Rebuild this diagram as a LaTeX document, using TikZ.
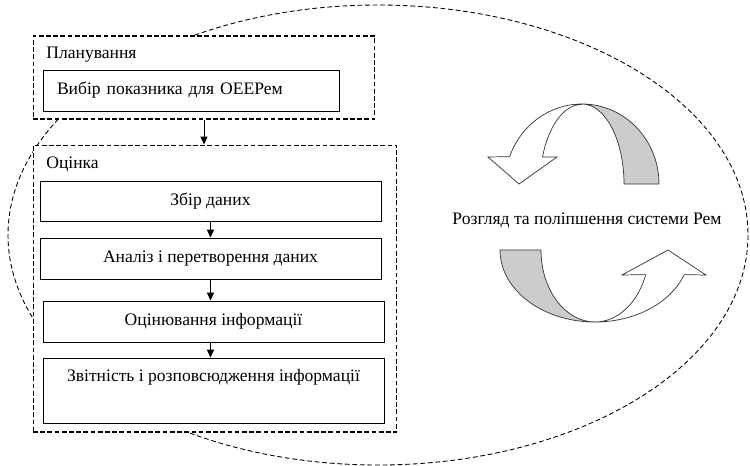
\documentclass[tikz,border=0pt]{standalone}
\usepackage{fontspec}
\setmainfont{Liberation Serif}
\usetikzlibrary{arrows.meta}

\begin{document}
\begin{tikzpicture}[x=0.02cm, y=-0.02cm, font=\fontsize{10}{12}\selectfont,
        stage/.style={draw, fill=white, line width=0.5pt, minimum width=6.82cm, minimum height=0.82cm, inner sep=0pt},
        group/.style={draw, fill=white, dash pattern=on 2.7pt off 1.4pt, line width=0.6pt, inner sep=0pt},
        flow/.style={-{Triangle[length=4.5pt,width=4pt]}, line width=0.5pt},
        ribbon/.style={draw=black!80, line width=0.4pt}]
            \useasboundingbox (0,0) rectangle (750,466);

            \draw[dash pattern=on 2.7pt off 1.6pt, line width=0.5pt] (378,235) ellipse[x radius=370, y radius=230];

            \node[group, minimum width=6.84cm, minimum height=1.66cm] (plan) at (204,77.5) {};
            \node[anchor=west, inner sep=0pt] (planlbl) at (46,55) {Планування};
            \node[stage, minimum width=5.92cm, text width=5.36cm, inner xsep=0.28cm, align=left] (choice) at (191,90.5) {Вибір показника для ОЕЕРем};

            \node[group, minimum width=7.28cm, minimum height=5.74cm] (eval) at (215,288.5) {};
            \node[anchor=west, inner sep=0pt] (evallbl) at (46,164) {Оцінка};
            \node[stage, minimum height=0.8cm] (collect) at (210.5,201) {Збір даних};
            \node[stage] (analyse) at (210.5,258.5) {Аналіз і перетворення даних};
            \node[stage] (assess) at (213.5,321.5) {Оцінювання інформації};
            \node[stage, minimum height=1.3cm, text height=0.25cm, text depth=0.63cm] (report) at (213.5,390.5) {Звітність і розповсюдження інформації};

            \draw[flow] (plan.south) -- (plan.south |- eval.north);
            \draw[flow] (collect) -- (analyse);
            \draw[flow] (analyse.south) -- (analyse.south |- assess.north);
            \draw[flow] (assess.south -| collect.south) -- (report.north -| collect.south);

            \filldraw[ribbon, fill=gray!40] (582,104) arc[start angle=270, end angle=360, x radius=77, y radius=80] -- (624,184) arc[start angle=0, end angle=-90, x radius=42, y radius=80] -- cycle;
            \filldraw[ribbon, fill=white] (582,104) arc[start angle=270, end angle=200, x radius=77, y radius=80] -- (488,157) -- (519,184) -- (557,157) -- (542.5,157) arc[start angle=200, end angle=270, x radius=42, y radius=80] -- cycle;

            \node (review) at (587,220) {Розгляд та поліпшення системи Рем};

            \filldraw[ribbon, fill=gray!40] (500,250) arc[start angle=180, end angle=90, x radius=95, y radius=72] arc[start angle=90, end angle=180, x radius=54, y radius=72] -- cycle;
            \filldraw[ribbon, fill=white] (595,322) arc[start angle=90, end angle=20, x radius=95, y radius=72] -- (706,275) -- (668,250) -- (622,275) -- (645.7,274.6) arc[start angle=20, end angle=90, x radius=54, y radius=72] -- cycle;
\end{tikzpicture}
\end{document}
